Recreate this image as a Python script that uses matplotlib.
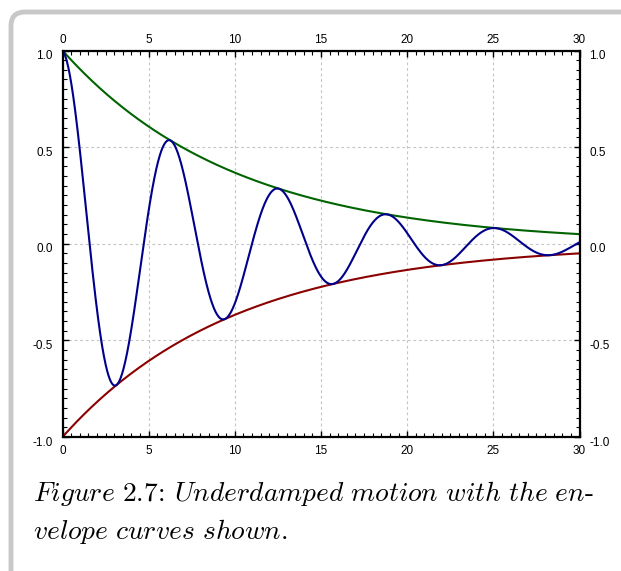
import numpy as np
import matplotlib.pyplot as plt
import matplotlib.transforms as mtransforms
from matplotlib.patches import FancyBboxPatch
from matplotlib.ticker import MultipleLocator

plt.rcParams['mathtext.fontset'] = 'cm'

# damped oscillation: x(t) = A e^{-k t} cos(w t)
amplitude = 1.0
decay = 0.1
omega = 1.0
t_range = [0, 30]

x_ticks = [0, 5, 10, 15, 20, 25, 30]
y_ticks = [-1.0, -0.5, 0.0, 0.5, 1.0]
y_labels = ['-1.0', '-0.5', '0.0', '0.5', '1.0']

t = np.linspace(t_range[0], t_range[1], 1500)
envelope = amplitude * np.exp(-decay * t)
motion = envelope * np.cos(omega * t)

fig = plt.figure(figsize=(6.21, 5.71), dpi=100)

# page frame
frame = FancyBboxPatch((11, -40), 700, 599, boxstyle='round,pad=0,rounding_size=14',
                       transform=None, facecolor='white', edgecolor='#c8c8c8',
                       linewidth=3.5, zorder=0)
fig.patches.append(frame)

ax = fig.add_axes([62.5 / 621, 1 - 437 / 571, 517 / 621, 386.5 / 571])
ax.set_zorder(2)

ax.plot(t, envelope, color='#006400', lw=1.5)
ax.plot(t, -envelope, color='#8b0000', lw=1.5)
ax.plot(t, motion, color='#00008b', lw=1.5)

ax.set_xlim(t_range)
ax.set_ylim(-1, 1)
ax.set_xticks(x_ticks)
ax.set_xticklabels([str(v) for v in x_ticks])
ax.set_yticks(y_ticks)
ax.set_yticklabels(y_labels)
ax.xaxis.set_minor_locator(MultipleLocator(0.5))
ax.yaxis.set_minor_locator(MultipleLocator(0.05))

ax.grid(True, color='#c4c4c4', linestyle=(0, (2.5, 2.5)), linewidth=0.8)
ax.set_axisbelow(True)

ax.tick_params(which='both', direction='in', top=True, right=True,
               labeltop=True, labelright=True, color='black')
ax.tick_params(which='major', length=4.5, width=1.0, labelsize=8.5)
ax.tick_params(which='minor', length=3, width=0.8)
ax.tick_params(axis='y', which='major', pad=7)
ax.tick_params(axis='x', which='major', pad=3)
for lab in ax.get_xticklabels() + ax.get_yticklabels():
    lab.set_fontfamily('Liberation Sans')
# side labels sit a little lower than their ticks
shift = mtransforms.ScaledTranslation(0, -3 / 72, fig.dpi_scale_trans)
for lab in ax.yaxis.get_majorticklabels():
    lab.set_transform(lab.get_transform() + shift)
for tk in ax.xaxis.get_major_ticks():
    tk.label1.set_transform(tk.label1.get_transform() +
                            mtransforms.ScaledTranslation(0, -2.5 / 72, fig.dpi_scale_trans))

for s in ax.spines.values():
    s.set_linewidth(1.6)

fig.text(33 / 621, 1 - 501 / 571,
         r'$\mathit{Figure\ 2.7}$: $\mathit{Underdamped\ motion\ with\ the\ en}$-',
         fontsize=19.8, family='cmr10', ha='left', va='baseline')
fig.text(33 / 621, 1 - 539 / 571,
         r'$\mathit{velope\ curves\ shown}$.',
         fontsize=19.8, family='cmr10', ha='left', va='baseline')

fig.savefig('out.png', dpi=100)
